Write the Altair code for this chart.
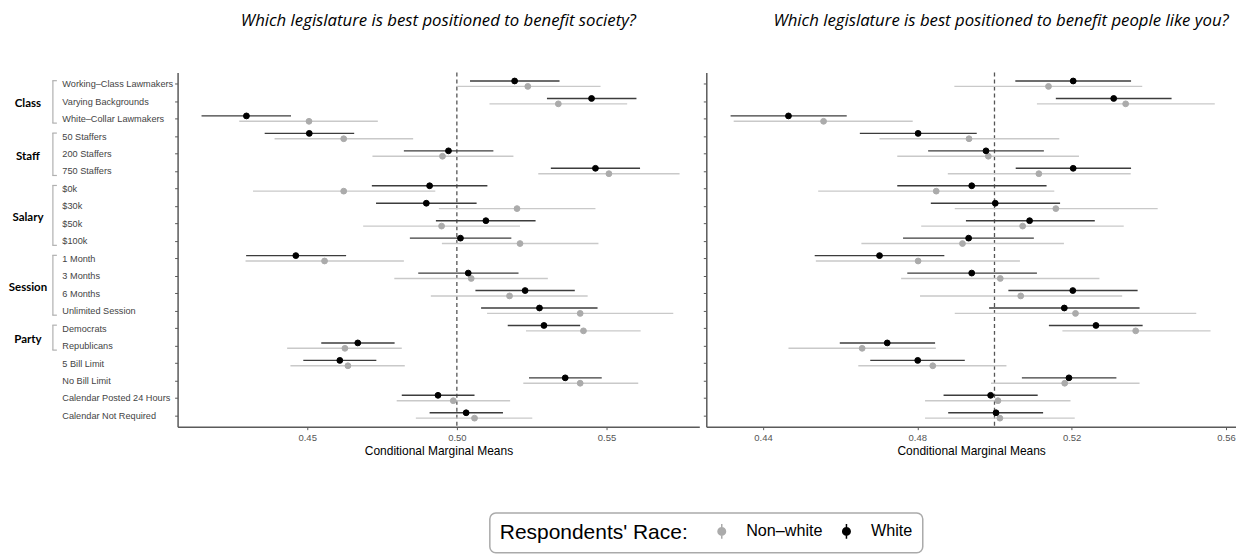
import altair as alt
import pandas as pd

rows = ["Working–Class Lawmakers", "Varying Backgrounds", "White–Collar Lawmakers",
        "50 Staffers", "200 Staffers", "750 Staffers",
        "$0k", "$30k", "$50k", "$100k",
        "1 Month", "3 Months", "6 Months", "Unlimited Session",
        "Democrats", "Republicans",
        "5 Bill Limit", "No Bill Limit",
        "Calendar Posted 24 Hours", "Calendar Not Required"]

races = ["Non–white", "White"]

# groups: name, first row, last row, row used to place the label
groups = ["Class", "Staff", "Salary", "Session", "Party"]
group_first = ["Working–Class Lawmakers", "50 Staffers", "$0k", "1 Month", "Democrats"]
group_last = ["White–Collar Lawmakers", "750 Staffers", "$100k", "Unlimited Session", "Republicans"]
group_label_row = ["Varying Backgrounds", "200 Staffers", "$30k", "3 Months", "Democrats"]
group_even = [False, False, True, True, True]

# Panel 1: benefit society
soc_white_est = [0.5193, 0.5450, 0.4297, 0.4507, 0.4972, 0.5463, 0.4909, 0.4898, 0.5097, 0.5012,
                 0.4462, 0.5038, 0.5228, 0.5276, 0.5291, 0.4669, 0.4609, 0.5362, 0.4937, 0.5031]
soc_white_lo = [0.5044, 0.5301, 0.4147, 0.4358, 0.4823, 0.5314, 0.4716, 0.4730, 0.4930, 0.4843,
                0.4296, 0.4871, 0.5062, 0.5081, 0.5170, 0.4547, 0.4487, 0.5241, 0.4816, 0.4909]
soc_white_hi = [0.5343, 0.5600, 0.4446, 0.4657, 0.5122, 0.5612, 0.5102, 0.5066, 0.5263, 0.5182,
                0.4630, 0.5206, 0.5394, 0.5470, 0.5412, 0.4792, 0.4731, 0.5484, 0.5059, 0.5154]
soc_nw_est = [0.5237, 0.5339, 0.4506, 0.4622, 0.4952, 0.5508, 0.4622, 0.5201, 0.4949, 0.5211,
              0.4558, 0.5048, 0.5176, 0.5412, 0.5423, 0.4626, 0.4636, 0.5412, 0.4988, 0.5059]
soc_nw_lo = [0.4999, 0.5109, 0.4273, 0.4391, 0.4718, 0.5272, 0.4319, 0.4940, 0.4687, 0.4950,
             0.4294, 0.4791, 0.4913, 0.5101, 0.5231, 0.4433, 0.4444, 0.5222, 0.4799, 0.4863]
soc_nw_hi = [0.5480, 0.5569, 0.4736, 0.4854, 0.5189, 0.5744, 0.4928, 0.5463, 0.5211, 0.5473,
             0.4823, 0.5304, 0.5437, 0.5723, 0.5614, 0.4816, 0.4826, 0.5606, 0.5178, 0.5252]

# Panel 2: benefit people like you
ppl_white_est = [0.5204, 0.5309, 0.4466, 0.4802, 0.4978, 0.5204, 0.4941, 0.5002, 0.5091, 0.4933,
                 0.4702, 0.4941, 0.5203, 0.5181, 0.5263, 0.4722, 0.4801, 0.5193, 0.4990, 0.5004]
ppl_white_lo = [0.5054, 0.5159, 0.4316, 0.4651, 0.4828, 0.5055, 0.4748, 0.4835, 0.4926, 0.4763,
                0.4534, 0.4774, 0.5036, 0.4986, 0.5141, 0.4599, 0.4678, 0.5071, 0.4868, 0.4880]
ppl_white_hi = [0.5354, 0.5459, 0.4617, 0.4954, 0.5128, 0.5354, 0.5135, 0.5170, 0.5260, 0.5102,
                0.4870, 0.5110, 0.5371, 0.5376, 0.5384, 0.4846, 0.4923, 0.5316, 0.5112, 0.5126]
ppl_nw_est = [0.5140, 0.5340, 0.4557, 0.4934, 0.4984, 0.5115, 0.4849, 0.5159, 0.5073, 0.4917,
              0.4802, 0.5015, 0.5068, 0.5210, 0.5366, 0.4657, 0.4840, 0.5182, 0.5009, 0.5014]
ppl_nw_lo = [0.4896, 0.5110, 0.4324, 0.4702, 0.4748, 0.4879, 0.4543, 0.4897, 0.4810, 0.4655,
             0.4537, 0.4758, 0.4807, 0.4897, 0.5176, 0.4466, 0.4647, 0.4991, 0.4820, 0.4820]
ppl_nw_hi = [0.5383, 0.5571, 0.4788, 0.5168, 0.5219, 0.5353, 0.5155, 0.5423, 0.5335, 0.5180,
             0.5066, 0.5272, 0.5331, 0.5523, 0.5560, 0.4848, 0.5031, 0.5376, 0.5197, 0.5208]

soc_ticks = [0.45, 0.50, 0.55]
ppl_ticks = [0.44, 0.48, 0.52, 0.56]
soc_domain = [0.4067, 0.5810]
ppl_domain = [0.4253, 0.5626]
ref_value = 0.5

title_soc = "Which legislature is best positioned to benefit society?"
title_ppl = "Which legislature is best positioned to benefit people like you?"


def make_df(nw_est, nw_lo, nw_hi, w_est, w_lo, w_hi):
    recs = []
    for i, r in enumerate(rows):
        recs.append({"row": r, "race": races[0], "est": nw_est[i], "lo": nw_lo[i], "hi": nw_hi[i]})
        recs.append({"row": r, "race": races[1], "est": w_est[i], "lo": w_lo[i], "hi": w_hi[i]})
    return pd.DataFrame(recs)


df_soc = make_df(soc_nw_est, soc_nw_lo, soc_nw_hi, soc_white_est, soc_white_lo, soc_white_hi)
df_ppl = make_df(ppl_nw_est, ppl_nw_lo, ppl_nw_hi, ppl_white_est, ppl_white_lo, ppl_white_hi)

df_groups = pd.DataFrame({"group": groups, "row": group_first, "row_end": group_last})
df_glabels = pd.DataFrame({"group": groups, "row": group_label_row, "even": group_even})

POINT_COLORS = ["#ababab", "#000000"]
LINE_COLORS = ["#c9c9c9", "#3c3c3c"]
AXIS_COLOR = "#5a5a5a"
FONT = "Liberation Sans"

legend_symbol = "M0,-1L0,1M0.5,0A0.5,0.5,0,1,1,-0.5,0A0.5,0.5,0,1,1,0.5,0Z"
legend = alt.Legend(
    title="Respondents' Race:", orient="none", legendX=313, legendY=441.5,
    direction="horizontal", titleOrient="left", titleLimit=400,
    titleFontSize=21, titleFont=FONT, titleFontWeight="normal", titleColor="black",
    titlePadding=25, titleBaseline="middle",
    labelFontSize=16.2, labelFont=FONT, labelColor="black", labelOffset=16, labelLimit=200,
    symbolType=legend_symbol, symbolSize=225, symbolStrokeWidth=1.5, symbolOpacity=1,
    columnPadding=15,
)
color_scale = alt.Scale(domain=races, range=POINT_COLORS)
yscale = alt.Scale(type="point", padding=0.64, domain=rows)


def panel(df, domain, ticks, title, show_labels, dx):
    xscale = alt.Scale(domain=domain, nice=False, zero=False)
    xaxis = alt.Axis(values=ticks, format=".2f", title="Conditional Marginal Means",
                     grid=False, domainColor=AXIS_COLOR, domainWidth=1.5, tickColor=AXIS_COLOR,
                     tickSize=3, labelColor="#555555", labelFontSize=9.5, labelFont=FONT,
                     labelPadding=3, titleFont=FONT, titleFontSize=12, titleFontWeight="normal",
                     titleColor="black", titlePadding=3)
    if show_labels:
        yaxis = alt.Axis(title=None, grid=False, domainColor=AXIS_COLOR, domainWidth=1.5,
                         tickColor=AXIS_COLOR, tickSize=3, labelAlign="left", labelPadding=113,
                         labelFontSize=9.2, labelFont=FONT, labelColor="#444444", labelLimit=0)
    else:
        yaxis = alt.Axis(title=None, grid=False, domainColor=AXIS_COLOR, domainWidth=1.5,
                         tickColor=AXIS_COLOR, tickSize=3, labels=False)
    y = alt.Y("row:N", scale=yscale, axis=yaxis)
    x_est = alt.X("est:Q", scale=xscale, axis=xaxis)
    x_lo = alt.X("lo:Q", scale=xscale, axis=xaxis)

    base = alt.Chart(df)
    vline = alt.Chart(pd.DataFrame({"v": [ref_value]})).mark_rule(
        color="#555555", strokeDash=[4, 3], strokeWidth=1.3
    ).encode(x=alt.X("v:Q", scale=xscale, axis=xaxis))

    layers = [vline]
    offsets = [2.7, -2.7]
    for i, race in enumerate(races):
        layers.append(
            base.transform_filter(alt.datum.race == race)
            .mark_rule(color=LINE_COLORS[i], strokeWidth=1.4, yOffset=offsets[i])
            .encode(x=x_lo, x2="hi:Q", y=y)
        )
    for i, race in enumerate(races):
        layers.append(
            base.transform_filter(alt.datum.race == race)
            .mark_point(filled=True, size=34, strokeWidth=1, opacity=1, yOffset=offsets[i])
            .encode(x=x_est, y=y,
                    fill=alt.Fill("race:N", scale=color_scale, legend=legend),
                    stroke=alt.Stroke("race:N", scale=color_scale, legend=legend))
        )
    if show_labels:
        bcol = "#b0b0b0"
        gb = alt.Chart(df_groups)
        layers.append(gb.mark_rule(color=bcol, strokeWidth=1.2, yOffset=-3, y2Offset=4.5)
                      .encode(x=alt.value(-125), y=y, y2="row_end:N"))
        layers.append(gb.mark_rule(color=bcol, strokeWidth=1.2, yOffset=-3)
                      .encode(x=alt.value(-125.6), x2=alt.value(-121), y=y))
        layers.append(gb.mark_rule(color=bcol, strokeWidth=1.2, yOffset=4.5)
                      .encode(x=alt.value(-125.6), x2=alt.value(-121),
                              y=alt.Y("row_end:N", scale=yscale, axis=yaxis)))
        gl = alt.Chart(df_glabels)
        layers.append(gl.transform_filter("!datum.even")
                      .mark_text(font="Lato", fontWeight="bold", fontSize=11.5, color="black",
                                 align="center", baseline="middle", yOffset=3)
                      .encode(x=alt.value(-150), y=y, text="group:N"))
        layers.append(gl.transform_filter("datum.even")
                      .mark_text(font="Lato", fontWeight="bold", fontSize=11.5, color="black",
                                 align="center", baseline="middle", yOffset=11.8)
                      .encode(x=alt.value(-150), y=y, text="group:N"))

    return alt.layer(*layers).properties(
        width=523 if show_labels else 531, height=355,
        title=alt.TitleParams(text=title, font="Open Sans", fontStyle="italic", fontSize=16.8,
                              fontWeight="normal", color="black", offset=42, dx=dx,
                              anchor="middle"),
    )


left = panel(df_soc, soc_domain, soc_ticks, title_soc, True, 0)
right = panel(df_ppl, ppl_domain, ppl_ticks, title_ppl, False, 30)

chart = alt.hconcat(left, right, spacing=3).resolve_scale(
    x="independent", y="independent", fill="shared", stroke="shared"
).properties(
    padding={"left": 0, "top": 4, "right": 0, "bottom": 0},
    background="white",
).configure_view(stroke=None).configure_legend(
    strokeColor="#aaaaaa", strokeWidth=1.5, cornerRadius=6, padding=10,
)

chart.save("out.html", embed_options={"renderer": "svg", "actions": False})
